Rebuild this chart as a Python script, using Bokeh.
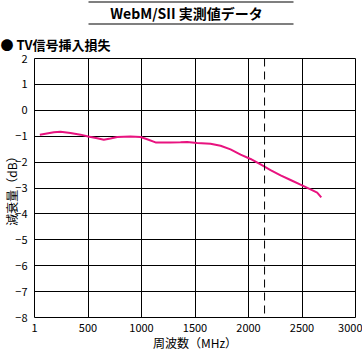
from bokeh.plotting import figure
from bokeh.layouts import column
from bokeh.models import FixedTicker, Label, Span, BoxAnnotation, Range1d
from bokeh.embed import file_html
from bokeh.resources import INLINE

# data
freq_mhz = [50, 181, 243, 336, 430, 501, 586, 648, 710, 773, 897, 991, 1053, 1131,
            1271, 1365, 1427, 1520, 1645, 1739, 1832, 1926, 2019, 2113, 2206, 2300,
            2393, 2486, 2580, 2642, 2680]
loss_db = [-0.94, -0.85, -0.83, -0.88, -0.94, -1.01, -1.08, -1.14, -1.09, -1.03, -1.01,
           -1.03, -1.12, -1.24, -1.24, -1.23, -1.22, -1.26, -1.29, -1.37, -1.51, -1.71,
           -1.88, -2.09, -2.31, -2.51, -2.69, -2.87, -3.05, -3.18, -3.36]
x_ticks = [0, 500, 1000, 1500, 2000, 2500, 3000]
x_tick_labels = ["1", "500", "1000", "1500", "2000", "2500", "3000"]
y_ticks = [-8, -7, -6, -5, -4, -3, -2, -1, 0, 1, 2]
marker_freq = 2150

title_text = "WebM/SII 実測値データ"
subtitle_text = "● TV信号挿入損失"
x_label = "周波数（MHz）"
y_label = "減衰量（dB）"

FONT = "Noto Sans CJK JP"
HEADER_H = 25
BL, BR = 34, 7   # left / right borders shared by both figures

# ---- header: title between two rules (pixel coordinates of the page)
hdr = figure(width=362, height=HEADER_H, output_backend="svg", toolbar_location=None,
             x_range=Range1d(BL, 362 - BR), y_range=Range1d(HEADER_H, 0))
hdr.min_border_left = BL
hdr.min_border_right = BR
hdr.min_border_top = 0
hdr.min_border_bottom = 0
hdr.axis.visible = False
hdr.grid.visible = False
hdr.outline_line_color = None
hdr.background_fill_color = "white"
hdr.border_fill_color = "white"

hdr.add_layout(Label(x=186, y=12.5, text=title_text, text_font=FONT,
                     text_font_size="14px", text_font_style="bold",
                     text_align="center", text_baseline="middle", text_color="black"))
for cy in (1.5, 23.5):
    hdr.add_layout(BoxAnnotation(left=88, right=293, top=cy - 0.5, bottom=cy + 0.5,
                                 fill_color="black", fill_alpha=1, line_color=None))

# ---- chart
p = figure(width=362, height=353 - HEADER_H, output_backend="svg", toolbar_location=None,
           x_range=Range1d(0, 3000), y_range=Range1d(-8, 2))
p.min_border_left = BL
p.min_border_right = BR
p.min_border_top = 58 - HEADER_H
p.min_border_bottom = 35
p.background_fill_color = "white"
p.border_fill_color = "white"
p.outline_line_color = "black"
p.outline_line_width = 1

p.title.text = subtitle_text
p.title.align = "left"
p.title.offset = -BL
p.title.standoff = 9
p.title.text_font = FONT
p.title.text_font_size = "13px"
p.title.text_font_style = "bold"
p.title.text_color = "black"

for ax in (p.xaxis[0], p.yaxis[0]):
    ax.axis_line_color = None
    ax.major_tick_line_color = None
    ax.minor_tick_line_color = None
    ax.major_tick_out = 0
    ax.major_tick_in = 0
    ax.minor_tick_out = 0
    ax.minor_tick_in = 0
    ax.major_label_text_font = FONT
    ax.major_label_text_font_size = "11px"
    ax.major_label_text_color = "black"
    ax.axis_label_text_font = FONT
    ax.axis_label_text_font_size = "12px"
    ax.axis_label_text_font_style = "normal"
    ax.axis_label_text_color = "black"

p.xaxis[0].ticker = FixedTicker(ticks=x_ticks)
p.xaxis[0].major_label_overrides = {t: l for t, l in zip(x_ticks, x_tick_labels)}
p.xaxis[0].major_label_standoff = 6
p.xaxis[0].axis_label = x_label
p.xaxis[0].axis_label_standoff = -1
p.yaxis[0].ticker = FixedTicker(ticks=y_ticks)
p.yaxis[0].major_label_standoff = 7
p.yaxis[0].axis_label = y_label
p.yaxis[0].axis_label_standoff = -8

p.xgrid.ticker = FixedTicker(ticks=x_ticks)
p.ygrid.ticker = FixedTicker(ticks=y_ticks)
for g in (p.xgrid[0], p.ygrid[0]):
    g.grid_line_color = "black"
    g.grid_line_width = 1
    g.grid_line_alpha = 1

p.add_layout(Span(location=marker_freq, dimension="height", line_color="black",
                  line_width=1, line_dash="8 5"))

p.line(freq_mhz, loss_db, line_color="#E8137F", line_width=2)

layout = column(hdr, p, spacing=0)
open("out.html", "w").write(file_html(layout, INLINE))
